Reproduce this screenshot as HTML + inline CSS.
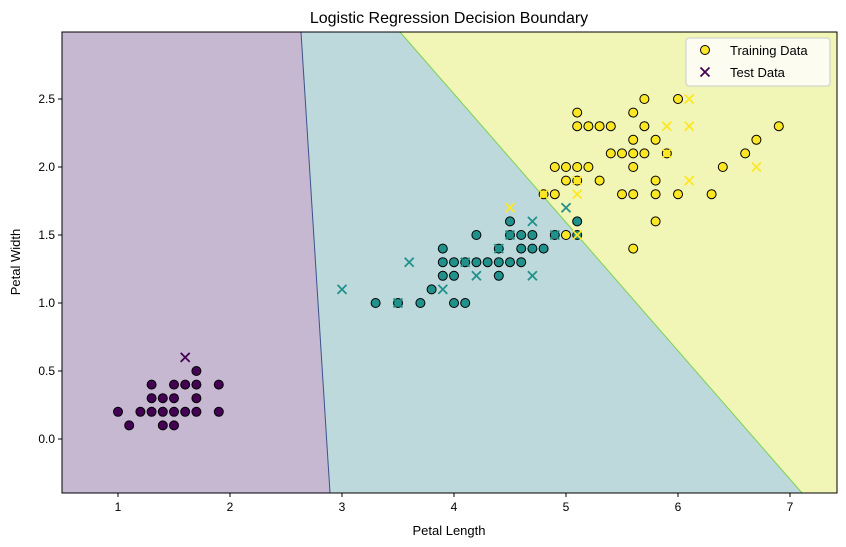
<!DOCTYPE html>
<html><head><meta charset="utf-8"><style>
body{margin:0;background:#fff;}
svg{display:block;font-family:"Liberation Sans","DejaVu Sans",sans-serif;}
</style></head><body>
<svg id="s" width="846" height="547" xmlns="http://www.w3.org/2000/svg">
<rect width="846" height="547" fill="#fff"/>
<defs><clipPath id="c"><rect x="62" y="32" width="775" height="461"/></clipPath></defs>
<g clip-path="url(#c)">
<rect x="62" y="32" width="775" height="461" fill="#bdd9dc"/>
<polygon points="62,32 301,32 330,493 62,493" fill="#c7b8d2"/>
<polygon points="400,32 837,32 837,493 802,493" fill="#f1f6b6"/>
<line x1="301" y1="32" x2="330" y2="493" stroke="#3b528b" stroke-width="1"/>
<line x1="400" y1="32" x2="802" y2="493" stroke="#7ad151" stroke-width="1"/>
<g id="pts"></g>
</g>
<rect x="62" y="32" width="775" height="461" fill="none" stroke="#000" stroke-width="1"/>
<text x="449" y="23" font-size="16" text-anchor="middle">Logistic Regression Decision Boundary</text>
<text x="449" y="535" font-size="13" text-anchor="middle">Petal Length</text>
<text x="20" y="262" font-size="13" text-anchor="middle" transform="rotate(-90 20 262)">Petal Width</text>
<g id="ticks" font-size="12"></g>
<g>
<rect x="686" y="38" width="144" height="48" rx="3" fill="#fff" fill-opacity="0.8" stroke="#ccc"/>
<circle cx="705" cy="50" r="4.5" fill="#fde725" stroke="#000"/>
<text x="730" y="55" font-size="13">Training Data</text>
<path d="M700.5,67.5l9,9M709.5,67.5l-9,9" stroke="#440154" stroke-width="1.8"/>
<text x="730" y="77" font-size="13">Test Data</text>
</g>
</svg>
<script>
var NS="http://www.w3.org/2000/svg";
function X(v){return 6+112*v;} function Y(v){return 439-136*v;}
var t=document.getElementById("ticks"),h="";
for(var i=1;i<=7;i++){var x=X(i);h+='<line x1="'+x+'" y1="493" x2="'+x+'" y2="497" stroke="#000"/><text x="'+x+'" y="511" text-anchor="middle">'+i+'</text>';}
for(var j=0;j<=5;j++){var v=j*0.5,y=Y(v);h+='<line x1="58" y1="'+y+'" x2="62" y2="'+y+'" stroke="#000"/><text x="55" y="'+(y+4)+'" text-anchor="end">'+v.toFixed(1)+'</text>';}
t.innerHTML=h;
var P="#440154",T="#21918c",Yc="#fde725";
var tr=[[P,0.2,[1.0,1.2,1.3,1.4,1.5,1.6,1.7,1.9]],[P,0.1,[1.1,1.4,1.5]],[P,0.3,[1.3,1.4,1.5,1.7]],[P,0.4,[1.3,1.5,1.6,1.7,1.9]],[P,0.5,[1.7]],
[T,1.0,[3.3,3.5,3.7,4.0,4.1]],[T,1.1,[3.8]],[T,1.2,[3.9,4.0,4.4]],[T,1.3,[3.9,4.0,4.1,4.2,4.3,4.4,4.5,4.6]],[T,1.4,[3.9,4.4,4.6,4.7,4.8]],[T,1.5,[4.2,4.5,4.6,4.7,4.9,5.1]],[T,1.6,[4.5,5.1]],
[Yc,2.4,[5.1,5.6]],[Yc,2.5,[5.7,6.0]],[Yc,2.3,[5.1,5.2,5.3,5.4,5.7,6.9]],[Yc,2.2,[5.6,5.8,6.7]],[Yc,2.1,[5.4,5.5,5.6,5.7,5.9,6.6]],[Yc,2.0,[4.9,5.0,5.1,5.2,5.6,6.4]],[Yc,1.9,[5.0,5.1,5.3,5.8]],[Yc,1.8,[4.8,4.9,5.5,5.6,5.8,6.0,6.3]],[Yc,1.6,[5.8]],[Yc,1.5,[5.0]],[Yc,1.4,[5.6]]];
var te=[[P,1.6,0.6],[T,3.0,1.1],[T,3.6,1.3],[T,3.9,1.1],[T,4.2,1.2],[T,4.7,1.2],[T,4.7,1.6],[T,5.0,1.7],[T,4.9,1.5],[T,4.5,1.5],[T,3.5,1.0],[T,4.1,1.3],[T,4.4,1.4],
[Yc,6.1,2.5],[Yc,5.9,2.3],[Yc,6.1,2.3],[Yc,5.1,1.9],[Yc,6.1,1.9],[Yc,6.7,2.0],[Yc,5.1,1.8],[Yc,4.8,1.8],[Yc,4.5,1.7],[Yc,5.1,1.5],[Yc,5.9,2.1]];
var s="";
tr.forEach(function(r){r[2].forEach(function(x){s+='<circle cx="'+X(x)+'" cy="'+Y(r[1])+'" r="4.5" fill="'+r[0]+'" stroke="#000" stroke-width="1"/>';});});
te.forEach(function(p){var x=X(p[1]),y=Y(p[2]);s+='<path d="M'+(x-4.5)+','+(y-4.5)+'l9,9M'+(x+4.5)+','+(y-4.5)+'l-9,9" stroke="'+p[0]+'" stroke-width="1.8"/>';});
document.getElementById("pts").innerHTML=s;
</script>
</body></html>
